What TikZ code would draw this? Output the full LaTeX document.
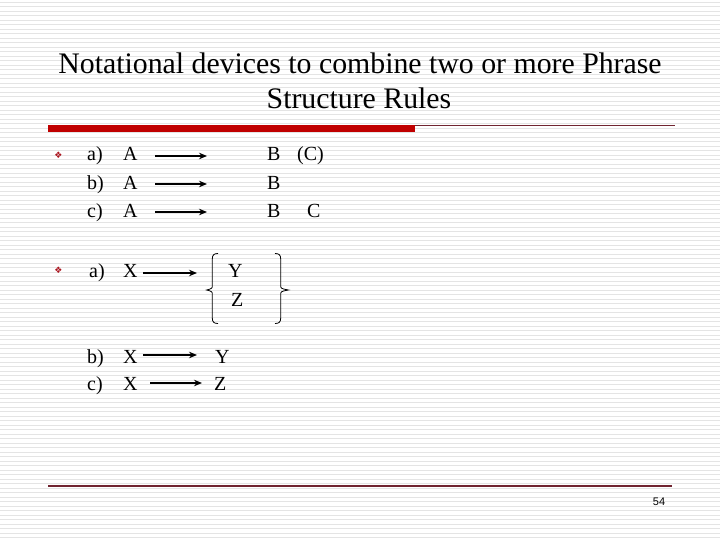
\documentclass[tikz,border=0pt]{standalone}
\usepackage{fontspec}
\setmainfont{Liberation Serif}
\newfontfamily\symfont{DejaVu Sans}
\newfontfamily\pagefont{Liberation Sans}
\usepackage{tikz}
\usetikzlibrary{arrows.meta,positioning}
\definecolor{ruleg}{RGB}{228,228,228}
\definecolor{barred}{RGB}{192,0,0}
\definecolor{linered}{RGB}{112,36,48}
\definecolor{bulred}{RGB}{170,20,30}
\tikzset{
	slide title/.style={anchor=base,inner sep=0pt,font=\fontsize{29.8}{35}\selectfont},
	lbl/.style={anchor=base west,inner sep=0pt,font=\fontsize{20}{24}\selectfont},
	bul/.style={inner sep=0pt,text=bulred,font=\symfont\fontsize{9}{9}\selectfont},
	ar/.style={-{Stealth[length=8pt,width=6.5pt]},line width=2pt},
	brc/.style={line width=0.8pt}
}

\begin{document}
\begin{tikzpicture}[x=1pt,y=-1pt,node distance=1 and 1]
      \useasboundingbox (0,0) rectangle (720,540);
      % ruled background
      \foreach \y in {2,6.5,...,538} \draw[ruleg,line width=0.8pt] (0,\y) -- (720,\y);
      % title
      \node[slide title] (T1) at (360,73.3) {Notational devices to combine two or more Phrase};
      \node[slide title] (T2) at (359,108.3) {Structure Rules};
      \fill[barred] (48,125) rectangle (415,132);
      \draw[linered,line width=1.2pt] (415,125.5) -- (675,125.5);
      \draw[linered,line width=1.2pt] (48,486) -- (672,486);
      % first group
      \node[bul] (B1) at (58.5,155.5) {❖};
      \node[lbl] (Ra) at (87,161) {a)};
      \node[lbl] (RaA) at (123,161) {A};
      \node[lbl] (RaB) at (267,161) {B};
      \node[lbl] (RaC) at (297,161) {(C)};
      \node[lbl] (Rb) at (87,190) {b)};
      \node[lbl] (RbA) at (123,190) {A};
      \node[lbl] (RbB) at (267,190) {B};
      \node[lbl] (Rc) at (87,218) {c)};
      \node[lbl] (RcA) at (123,218) {A};
      \node[lbl] (RcB) at (267,218) {B};
      \node[lbl] (RcC) at (307,218) {C};
      \coordinate (aS) at (155,156);
      \coordinate (aE) at (207,156);
      \coordinate (bS) at (155,184);
      \coordinate (bE) at (207,184);
      \coordinate (cS) at (155,212);
      \coordinate (cE) at (207,212);
      \draw[ar] (aS) -- (aE);
      \draw[ar] (bS) -- (bE);
      \draw[ar] (cS) -- (cE);
      % second group
      \node[bul] (B2) at (58.5,270.5) {❖};
      \node[lbl] (Sa) at (89,277) {a)};
      \node[lbl] (SaX) at (123,277) {X};
      \node[lbl] (SaY) at (228,277) {Y};
      \node[lbl] (SaZ) at (231,306) {Z};
      \coordinate (xS) at (143,273);
      \coordinate (xE) at (197,273);
      \draw[ar] (xS) -- (xE);
      \draw[brc] (218,253.5) .. controls (214,253.5) and (212.3,255) .. (212.3,259) -- (212.3,285)
            .. controls (212.3,288.5) .. (206.7,290) .. controls (212.3,291.5) .. (212.3,295)
            -- (212.3,318) .. controls (212.3,322) and (214,323.5) .. (218,323.5);
      \draw[brc] (275,253.5) .. controls (279,253.5) and (280.7,255) .. (280.7,259) -- (280.7,285)
            .. controls (280.7,288.5) .. (288.3,290) .. controls (280.7,291.5) .. (280.7,295)
            -- (280.7,318) .. controls (280.7,322) and (279,323.5) .. (275,323.5);
      \node[lbl] (Sb) at (87,363) {b)};
      \node[lbl] (SbX) at (123,363) {X};
      \node[lbl] (SbY) at (215,363) {Y};
      \node[lbl] (Sc) at (87,390) {c)};
      \node[lbl] (ScX) at (123,390) {X};
      \node[lbl] (ScZ) at (214,390) {Z};
      \coordinate (yS) at (143,355);
      \coordinate (yE) at (197,355);
      \coordinate (zS) at (150,383);
      \coordinate (zE) at (202,383);
      \draw[ar] (yS) -- (yE);
      \draw[ar] (zS) -- (zE);
      % page number
      \node[inner sep=0pt,font=\pagefont\fontsize{11}{11}\selectfont] (pg) at (659,502) {54};
   \end{tikzpicture}
\end{document}
